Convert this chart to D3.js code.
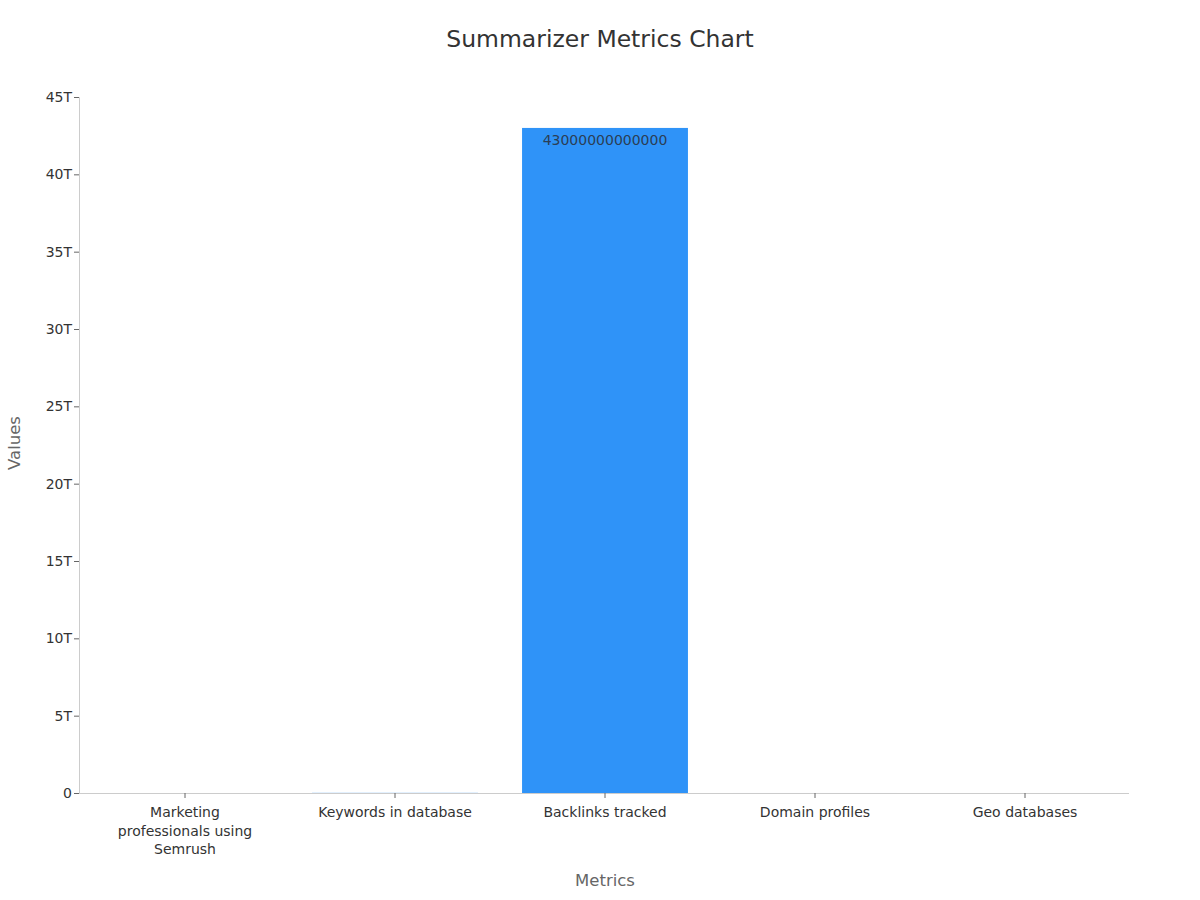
<!DOCTYPE html>
<html><head><meta charset="utf-8">
<script src="https://cdn.jsdelivr.net/npm/d3@7"></script>
<style>body{margin:0;background:#fff;font-family:"DejaVu Sans",sans-serif;}</style>
</head><body>
<svg id="c" width="1200" height="900"></svg>
<script>
const categories = ["Marketing professionals using Semrush", "Keywords in database", "Backlinks tracked", "Domain profiles", "Geo databases"];
const values = [10000000, 25400000000, 43000000000000, 808000000, 142];
const yTicks = [0, 5e12, 10e12, 15e12, 20e12, 25e12, 30e12, 35e12, 40e12, 45e12];
const yTickLabels = ["0", "5T", "10T", "15T", "20T", "25T", "30T", "35T", "40T", "45T"];
const labelWraps = [["Marketing", "professionals using", "Semrush"], ["Keywords in database"], ["Backlinks tracked"], ["Domain profiles"], ["Geo databases"]];

const svg = d3.select("#c");
const m = {l: 79, r: 1129, t: 97, b: 793};
const x = d3.scaleBand().domain(categories).range([m.l + 1, m.r + 1]).paddingInner(0.21).paddingOuter(0.105);
const y = d3.scaleLinear().domain([0, 45e12]).range([m.b, m.t]);

svg.append("text").attr("x", 600).attr("y", 47).attr("text-anchor", "middle")
  .attr("font-size", 23.5).attr("fill", "#333").text("Summarizer Metrics Chart");

// bars
svg.selectAll("rect.bar").data(categories).join("rect").attr("class", "bar")
  .attr("x", d => x(d)).attr("width", x.bandwidth())
  .attr("y", (d, i) => y(values[i])).attr("height", (d, i) => m.b - y(values[i]))
  .attr("fill", "#2f93f8").attr("fill-opacity", (d, i) => (m.b - y(values[i]) > 5 ? 1 : 0.35));

// value label for visible bar
categories.forEach((c, i) => {
  if (m.b - y(values[i]) > 20) {
    svg.append("text").attr("x", x(c) + x.bandwidth() / 2).attr("y", y(values[i]) + 17)
      .attr("text-anchor", "middle").attr("font-size", 14).attr("fill", "#2b3e55")
      .text(String(values[i]));
  }
});

// y axis
const ya = svg.append("g").attr("transform", `translate(${m.l},0)`)
  .call(d3.axisLeft(y).tickValues(yTicks).tickFormat((d, i) => yTickLabels[i]).tickSize(5).tickPadding(2));
ya.select(".domain").attr("stroke", "#ccc");
ya.selectAll(".tick line").attr("stroke", "#666");
ya.selectAll(".tick text").attr("font-size", 14).attr("fill", "#333").attr("font-family", "DejaVu Sans");

// x axis
const xa = svg.append("g").attr("transform", `translate(0,${m.b})`)
  .call(d3.axisBottom(x).tickSize(5).tickSizeOuter(0).tickFormat(""));
xa.select(".domain").attr("stroke", "#ccc").attr("d", `M${m.l},0.5H${m.r}`);
xa.selectAll(".tick line").attr("stroke", "#666");
xa.selectAll(".tick").each(function(d, i) {
  const t = d3.select(this).append("text").attr("fill", "#333").attr("font-size", 14)
    .attr("text-anchor", "middle").attr("font-family", "DejaVu Sans");
  labelWraps[i].forEach((ln, j) => {
    t.append("tspan").attr("x", 0).attr("y", 24 + j * 18.5).text(ln);
  });
});

svg.append("text").attr("transform", "translate(20,443) rotate(-90)").attr("text-anchor", "middle")
  .attr("font-size", 16.5).attr("fill", "#666").text("Values");
svg.append("text").attr("x", 605).attr("y", 886).attr("text-anchor", "middle")
  .attr("font-size", 16.5).attr("fill", "#666").text("Metrics");
</script>
</body></html>
